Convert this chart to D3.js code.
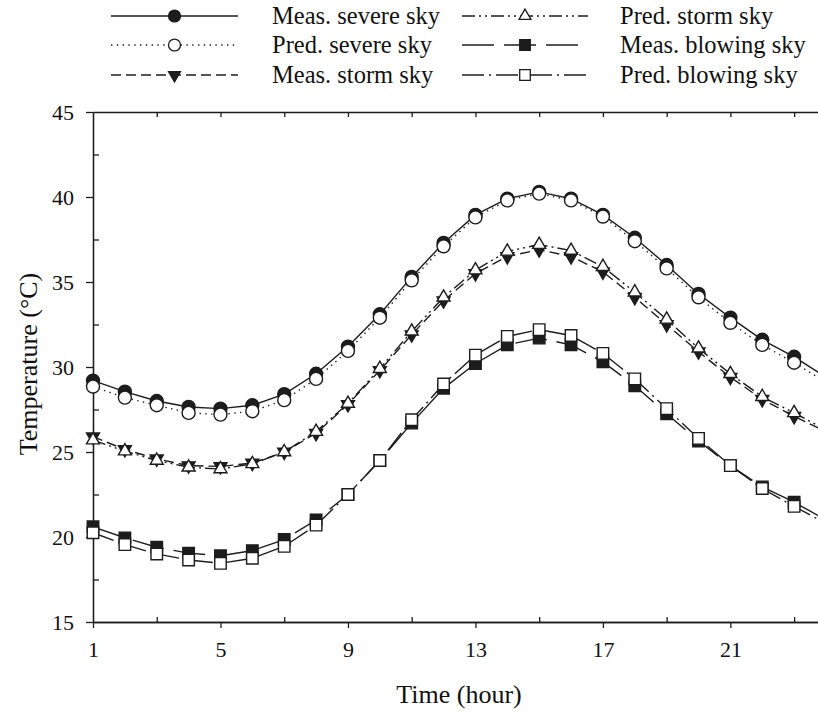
<!DOCTYPE html>
<html>
<head>
<meta charset="utf-8">
<script src="https://cdn.jsdelivr.net/npm/d3@7/dist/d3.min.js"></script>
<style>
  html, body { margin: 0; padding: 0; background: #fff; }
  svg { display: block; }
  text { font-family: "Liberation Serif", "Times New Roman", serif; fill: #111; }
</style>
</head>
<body>
<svg id="chart" width="818" height="712"></svg>
<script>
// Hourly temperatures (°C) for three sky conditions, measured vs predicted
const hours = [1, 2, 3, 4, 5, 6, 7, 8, 9, 10, 11, 12, 13, 14, 15, 16, 17, 18, 19, 20, 21, 22, 23, 24];
const measSevere  = [29.2, 28.55, 28.0, 27.65, 27.55, 27.75, 28.4, 29.6, 31.2, 33.1, 35.3, 37.3, 38.95, 39.9, 40.3, 39.9, 38.95, 37.6, 36.0, 34.3, 32.9, 31.6, 30.6, 29.4];
const predSevere  = [28.85, 28.2, 27.75, 27.3, 27.2, 27.4, 28.05, 29.3, 30.95, 32.9, 35.1, 37.1, 38.8, 39.8, 40.2, 39.8, 38.85, 37.4, 35.8, 34.1, 32.6, 31.3, 30.25, 29.1];
const measStorm   = [25.9, 25.15, 24.6, 24.2, 24.15, 24.35, 25.0, 26.1, 27.8, 29.8, 31.9, 33.9, 35.5, 36.5, 36.9, 36.5, 35.6, 34.1, 32.5, 30.9, 29.4, 28.1, 27.1, 26.2];
const predStorm   = [25.7, 25.05, 24.5, 24.1, 24.0, 24.3, 25.0, 26.2, 27.85, 29.9, 32.1, 34.1, 35.7, 36.8, 37.2, 36.85, 35.9, 34.4, 32.8, 31.1, 29.6, 28.25, 27.3, 26.3];
const measBlowing = [20.6, 19.95, 19.4, 19.05, 18.9, 19.2, 19.85, 21.0, 22.5, 24.5, 26.7, 28.75, 30.2, 31.3, 31.7, 31.3, 30.3, 28.9, 27.25, 25.65, 24.2, 22.95, 22.05, 21.0];
const predBlowing = [20.25, 19.55, 19.0, 18.65, 18.45, 18.75, 19.45, 20.7, 22.5, 24.5, 26.9, 29.0, 30.7, 31.8, 32.2, 31.85, 30.8, 29.3, 27.55, 25.8, 24.2, 22.85, 21.8, 20.8];

const xMajorTicks = [1, 5, 9, 13, 17, 21];
const xMinorTicks = [3, 7, 11, 15, 19, 23];
const yMajorTicks = [15, 20, 25, 30, 35, 40, 45];
const yMinorTicks = [17.5, 22.5, 27.5, 32.5, 37.5, 42.5];

const seriesNames = ["Meas. severe sky", "Pred. severe sky", "Meas. storm sky",
                     "Pred. storm sky", "Meas. blowing sky", "Pred. blowing sky"];
const seriesValues = [measSevere, predSevere, measStorm, predStorm, measBlowing, predBlowing];

const ink = "#1c1c1c";
// line dash + marker style per series
const styles = [
  { dash: null,             marker: "circle",   fill: ink },
  { dash: "1.4,4.4",        marker: "circle",   fill: "#fff" },
  { dash: "10,5",           marker: "triDown",  fill: ink },
  { dash: "13,4,2,4,2,4",   marker: "triUp",    fill: "#fff" },
  { dash: "32,10",          marker: "square",   fill: ink },
  { dash: "22,5,2,5",       marker: "square",   fill: "#fff" }
];

const svg = d3.select("#chart");
const plotLeft = 93, plotRight = 826, plotTop = 112, plotBottom = 622;

const x = d3.scaleLinear().domain([1, 24]).range([plotLeft, plotRight]);
const y = d3.scaleLinear().domain([15, 45]).range([plotBottom, plotTop]);

function markerPath(kind) {
  if (kind === "circle") return d3.symbol().type(d3.symbolCircle).size(Math.PI * 6.5 * 6.5)();
  if (kind === "square") return d3.symbol().type(d3.symbolSquare).size(11.5 * 11.5)();
  return d3.symbol().type(d3.symbolTriangle).size(13 * 13 * Math.sqrt(3) / 4)();
}
function markerTransform(kind, px, py) {
  return kind === "triDown" ? `translate(${px},${py}) rotate(180)` : `translate(${px},${py})`;
}

// ---- axes ----
const axisG = svg.append("g").attr("class", "axes");
function styleAxis(g) {
  g.selectAll("path.domain").attr("stroke", ink).attr("stroke-width", 1.3);
  g.selectAll(".tick line").attr("stroke", ink).attr("stroke-width", 1.3);
  g.selectAll(".tick text").style("font-family", '"Liberation Serif", serif')
    .style("font-size", "22px").attr("fill", "#111");
}
axisG.append("g").attr("transform", `translate(0,${plotBottom})`)
  .call(d3.axisBottom(x).tickValues(xMajorTicks).tickSize(6).tickPadding(8).tickSizeOuter(0))
  .call(styleAxis).call(g => g.selectAll("text").attr("dy", "0.95em"));
axisG.append("g").attr("transform", `translate(0,${plotBottom})`)
  .call(d3.axisBottom(x).tickValues(xMinorTicks).tickSize(-5).tickFormat("").tickSizeOuter(0))
  .call(styleAxis);
axisG.append("g").attr("transform", `translate(0,${plotTop})`)
  .call(d3.axisTop(x).tickValues(xMinorTicks.concat([5, 9, 13, 17, 21])).tickSize(-5).tickFormat("").tickSizeOuter(0))
  .call(styleAxis);
axisG.append("g").attr("transform", `translate(${plotLeft},0)`)
  .call(d3.axisLeft(y).tickValues(yMajorTicks).tickSize(7).tickPadding(12).tickSizeOuter(0))
  .call(styleAxis);
axisG.append("g").attr("transform", `translate(${plotLeft},0)`)
  .call(d3.axisLeft(y).tickValues(yMinorTicks).tickSize(-6).tickFormat("").tickSizeOuter(0))
  .call(styleAxis);

// axis titles
svg.append("text").attr("x", 459).attr("y", 703).attr("text-anchor", "middle")
  .style("font-size", "26px").text("Time (hour)");
svg.append("text").attr("transform", "translate(37,364) rotate(-90)").attr("text-anchor", "middle")
  .style("font-size", "26px").text("Temperature (°C)");

// ---- series ----
const line = d3.line().x((d, i) => x(hours[i])).y(d => y(d)).curve(d3.curveLinear);
const plot = svg.append("g").attr("class", "series");

seriesValues.forEach((vals, si) => {
  const st = styles[si];
  plot.append("path").datum(vals)
    .attr("d", line).attr("fill", "none").attr("stroke", ink).attr("stroke-width", 1.4)
    .attr("stroke-dasharray", st.dash);
});
seriesValues.forEach((vals, si) => {
  const st = styles[si];
  plot.append("g").selectAll("path").data(vals).join("path")
    .attr("d", markerPath(st.marker))
    .attr("transform", (d, i) => markerTransform(st.marker, x(hours[i]), y(d)))
    .attr("fill", st.fill).attr("stroke", ink).attr("stroke-width", 1.4);
});

// ---- legend ----
const legendCols = [{ x0: 111, x1: 238, tx: 272 }, { x0: 462, x1: 588, tx: 620 }];
const legendRows = [16, 45, 75];
const legend = svg.append("g").attr("class", "legend");
seriesNames.forEach((name, si) => {
  const col = legendCols[Math.floor(si / 3)];
  const cy = legendRows[si % 3];
  const st = styles[si];
  const g = legend.append("g");
  g.append("line").attr("x1", col.x0).attr("x2", col.x1).attr("y1", cy).attr("y2", cy)
    .attr("stroke", ink).attr("stroke-width", 1.4).attr("stroke-dasharray", st.dash);
  const cx = (col.x0 + col.x1) / 2;
  g.append("path").attr("d", markerPath(st.marker))
    .attr("transform", markerTransform(st.marker, cx, cy) + " scale(0.92)")
    .attr("fill", st.fill).attr("stroke", ink).attr("stroke-width", 1.4);
  g.append("text").attr("x", col.tx).attr("y", cy + 8).style("font-size", "24.5px").text(name);
});
</script>
</body>
</html>
